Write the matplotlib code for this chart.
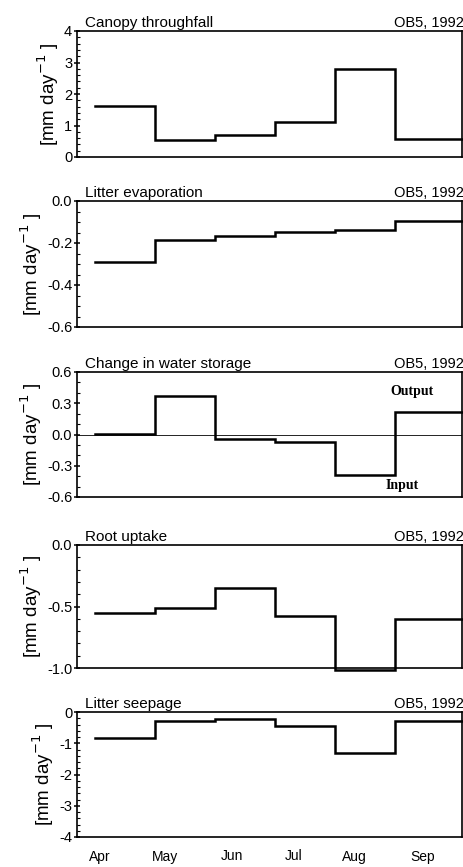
import numpy as np
import matplotlib.pyplot as plt
from matplotlib.ticker import MultipleLocator, FormatStrFormatter

# month boundaries (step edges), last one runs to the right frame
edges = [0, 1, 2, 3, 4, 5, 6.12]
months = ["Apr", "May", "Jun", "Jul", "Aug", "Sep"]
month_pos = [0.08, 1.17, 2.28, 3.32, 4.33, 5.47]

throughfall = [1.62, 0.55, 0.70, 1.10, 2.80, 0.58]
litter_evap = [-0.29, -0.185, -0.165, -0.148, -0.138, -0.095]
storage = [0.005, 0.37, -0.04, -0.07, -0.39, 0.22]
root_uptake = [-0.55, -0.51, -0.35, -0.58, -1.02, -0.60]
seepage = [-0.82, -0.28, -0.22, -0.45, -1.32, -0.28]

titles = ["Canopy throughfall", "Litter evaporation", "Change in water storage",
          "Root uptake", "Litter seepage"]
series = [throughfall, litter_evap, storage, root_uptake, seepage]
ylims = [(0, 4), (-0.6, 0.0), (-0.6, 0.6), (-1.0, 0.0), (-4, 0)]
majors = [1, 0.2, 0.3, 0.5, 1]
minors = [0.2, 0.05, 0.1, 0.1, 0.2]
fmts = ["%d", "%.1f", "%.1f", "%.1f", "%d"]

plt.rcParams['font.family'] = ['Liberation Sans', 'DejaVu Sans']
plt.rcParams['axes.unicode_minus'] = True

fig = plt.figure(figsize=(4.64, 8.67), dpi=100)

# panel boxes in pixels (top, bottom)
boxes = [(31, 157), (201, 327), (372, 497), (545, 668), (712, 837)]
W, H = 464.0, 867.0
left, right = 77, 462

for i, (top, bot) in enumerate(boxes):
    ax = fig.add_axes([left / W, 1 - bot / H, (right - left) / W, (bot - top) / H])
    vals = series[i]
    xs = np.array(edges)
    ys = np.append(vals, vals[-1])
    ax.step(xs, ys, where='post', color='black', lw=1.8, solid_joinstyle='miter',
            clip_on=False)
    ax.set_xlim(-0.3, 6.12)
    ax.set_ylim(*ylims[i])
    ax.yaxis.set_major_locator(MultipleLocator(majors[i]))
    ax.yaxis.set_minor_locator(MultipleLocator(minors[i]))
    ax.yaxis.set_major_formatter(FormatStrFormatter(fmts[i]))
    ax.tick_params(axis='y', which='major', direction='inout', length=5, width=1.1,
                   labelsize=10.5, pad=1)
    ax.tick_params(axis='y', which='minor', direction='in', length=2.5, width=0.8)
    ax.tick_params(axis='x', length=0)
    for s in ax.spines.values():
        s.set_linewidth(1.2)
    ax.set_ylabel("[mm day$^{-1}$ ]", fontsize=13.5, labelpad=2)
    ax.text(0.022, 1.01, titles[i], transform=ax.transAxes, ha='left', va='bottom', fontsize=11)
    ax.text(1.005, 1.01, "OB5, 1992", transform=ax.transAxes, ha='right', va='bottom',
            fontsize=10.5)

    if i == 2:
        ax.axhline(0, color='black', lw=0.6)
        ax.text(5.28, 0.41, "Output", fontsize=10, fontweight='bold',
                family='Liberation Serif', ha='center', va='center')
        ax.text(5.13, -0.49, "Input", fontsize=10, fontweight='bold',
                family='Liberation Serif', ha='center', va='center')

    if i == 4:
        ax.set_xticks(month_pos)
        ax.set_xticklabels(months, fontsize=10)
        ax.tick_params(axis='x', pad=9)
    else:
        ax.set_xticks([])

fig.savefig("out.png", dpi=100)
